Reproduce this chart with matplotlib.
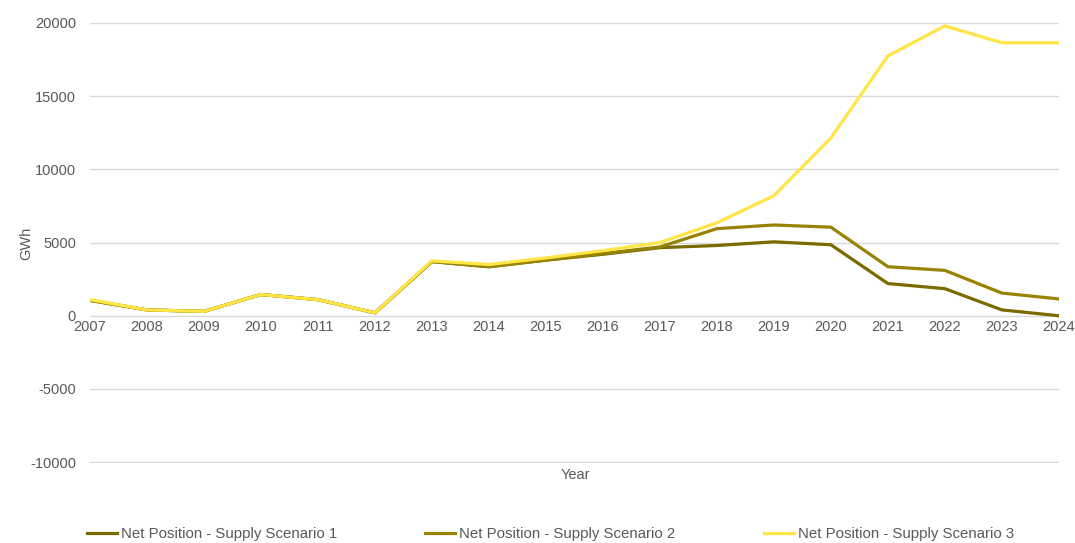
import matplotlib
matplotlib.use("Agg")
import matplotlib.pyplot as plt

plt.rcParams['font.family'] = ['Liberation Sans', 'DejaVu Sans']
plt.rcParams['axes.unicode_minus'] = False

years = list(range(2007, 2025))
scenario_1 = [1050, 400, 300, 1450, 1100, 200, 3700, 3350, 3800, 4200, 4650, 4800,
              5050, 4850, 2200, 1850, 400, 0]
scenario_2 = [1050, 400, 300, 1450, 1100, 200, 3700, 3350, 3800, 4250, 4700, 5950,
              6200, 6050, 3350, 3100, 1550, 1150]
scenario_3 = [1100, 400, 300, 1450, 1100, 200, 3750, 3500, 3950, 4450, 5000, 6350,
              8200, 12150, 17750, 19800, 18650, 18650]
labels = ["Net Position - Supply Scenario 1",
          "Net Position - Supply Scenario 2",
          "Net Position - Supply Scenario 3"]
colors = ["#7A6A00", "#978300", "#FFE545"]

text_col = "#595959"
fig = plt.figure(figsize=(10.75, 5.43), dpi=100)
ax = fig.add_axes([0.0837, 0.147, 0.9013, 0.8107])

for vals, lab, c in zip([scenario_1, scenario_2, scenario_3], labels, colors):
    ax.plot(years, vals, color=c, linewidth=2.3, label=lab, solid_joinstyle='round')

ax.set_xlim(2007, 2024)
ax.set_ylim(-10070, 20000)
ax.set_yticks(range(-10000, 20001, 5000))
ax.set_xticks(years)
ax.grid(axis='y', color='#D9D9D9', linewidth=1)
ax.set_axisbelow(True)
for s in ax.spines.values():
    s.set_visible(False)
ax.spines['bottom'].set_position(('data', 0))
ax.tick_params(length=0, labelsize=10.5, labelcolor=text_col)
ax.tick_params(axis='x', pad=3)
ax.tick_params(axis='y', pad=10)

ax.set_ylabel("GWh", fontsize=10.5, color=text_col, labelpad=-2)
fig.text(0.535, 0.125, "Year", ha='center', va='center', fontsize=10.5, color=text_col)

fig.legend(loc='center', bbox_to_anchor=(0.512, 0.017), ncol=3, frameon=False,
           fontsize=10.8, labelcolor=text_col, handlelength=2.0, handletextpad=0.25,
           columnspacing=5.9)

fig.savefig("out.png", dpi=100)
